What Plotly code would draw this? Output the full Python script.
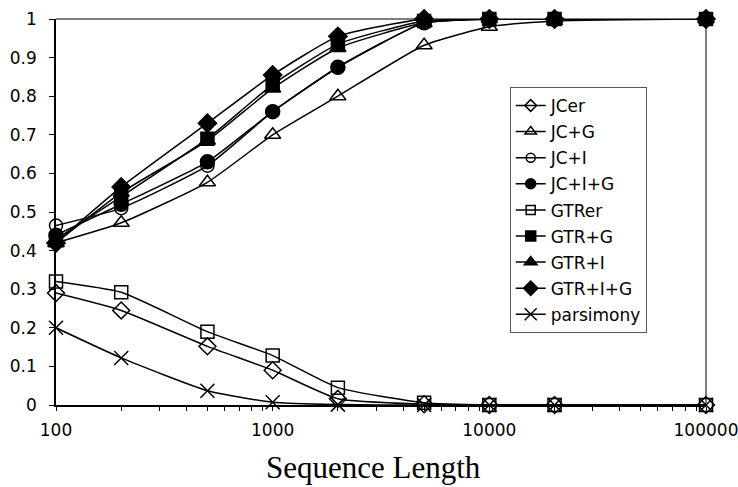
import plotly.graph_objects as go

seq_len = [100, 200, 500, 1000, 2000, 5000, 10000, 20000, 100000]
x_tick_vals = [100, 1000, 10000, 100000]
x_tick_text = ["100", "1000", "10000", "100000"]

jcer = [0.29, 0.245, 0.152, 0.09, 0.016, 0.002, 0.0, 0.0, 0.0]
jc_g = [0.42, 0.472, 0.577, 0.70, 0.80, 0.932, 0.98, 0.995, 1.0]
jc_i = [0.465, 0.51, 0.62, 0.76, 0.875, 0.99, 1.0, 1.0, 1.0]
jc_ig = [0.44, 0.52, 0.63, 0.76, 0.875, 0.99, 1.0, 1.0, 1.0]
gtrer = [0.32, 0.292, 0.19, 0.128, 0.045, 0.006, 0.0, 0.0, 0.0]
gtr_g = [0.43, 0.54, 0.69, 0.83, 0.935, 0.995, 1.0, 1.0, 1.0]
gtr_i = [0.42, 0.55, 0.685, 0.82, 0.925, 0.99, 1.0, 1.0, 1.0]
gtr_ig = [0.42, 0.565, 0.73, 0.855, 0.955, 1.0, 1.0, 1.0, 1.0]
parsimony = [0.2, 0.122, 0.037, 0.007, 0.001, 0.0, 0.0, 0.0, 0.0]

series = [
    ("JCer", jcer, "diamond-open", 13, 9),
    ("JC+G", jc_g, "triangle-up-open", 14, 10),
    ("JC+I", jc_i, "circle-open", 13, 9),
    ("JC+I+G", jc_ig, "circle", 14, 10),
    ("GTRer", gtrer, "square-open", 13, 9),
    ("GTR+G", gtr_g, "square", 13, 10),
    ("GTR+I", gtr_i, "triangle-up", 14, 11),
    ("GTR+I+G", gtr_ig, "diamond", 14, 11),
    ("parsimony", parsimony, "x-thin-open", 14, 12),
]

# minor tick positions on the log axis (2..9 within each decade)
minor_vals = [m * d for d in (100, 1000, 10000) for m in range(2, 10)]

fig = go.Figure()
for i, (name, ys, sym, sz, lsz) in enumerate(series):
    fig.add_trace(go.Scatter(
        x=seq_len, y=ys, name=name, mode="lines+markers",
        showlegend=False,
        line=dict(color="black", width=1.5, shape="spline", smoothing=0.5),
        marker=dict(symbol=sym, size=sz, color="black",
                    line=dict(color="black", width=1.5)),
        cliponaxis=False,
    ))
for i, (name, ys, sym, sz, lsz) in enumerate(series):
    fig.add_trace(go.Scatter(
        x=[None], y=[None], name=name, mode="lines+markers",
        legendgroup=f"g{i}",
        line=dict(color="black", width=1.5),
        marker=dict(symbol=sym, size=lsz, color="black",
                    line=dict(color="black", width=1.5)),
    ))

fig.update_layout(
    width=738, height=487,
    margin=dict(l=56, r=32, t=19, b=82, autoexpand=False),
    paper_bgcolor="white", plot_bgcolor="white",
    font=dict(family="DejaVu Sans", size=17, color="black"),
    showlegend=True,
    legend=dict(
        x=0.698, y=0.824, xanchor="left", yanchor="top",
        bordercolor="#555", borderwidth=1, bgcolor="white",
        font=dict(family="DejaVu Sans", size=17, color="black"),
        tracegroupgap=1,
        itemwidth=30,
    ),
    xaxis=dict(
        type="log", range=[2, 5], automargin=False,
        tickmode="array", tickvals=x_tick_vals, ticktext=x_tick_text,
        showline=True, linecolor="black", linewidth=1.5,
        ticks="outside", ticklen=4, tickcolor="black", tickwidth=1,
        ticklabelstandoff=5, ticklabeloverflow="allow",
        showgrid=False, zeroline=False,
        tickfont=dict(family="DejaVu Sans", size=17),
        minor=dict(ticks="outside", ticklen=4, tickcolor="black",
                   tickmode="array", tickvals=minor_vals, showgrid=False),
    ),
    yaxis=dict(
        range=[0, 1], dtick=0.1, automargin=False,
        showline=True, linecolor="black", linewidth=1.5,
        ticks="outside", ticklen=5, tickcolor="black",
        ticklabelstandoff=9,
        showgrid=False, zeroline=False,
        tickfont=dict(family="DejaVu Sans", size=17),
    ),
    shapes=[
        dict(type="line", xref="paper", yref="paper", x0=0, x1=1, y0=1, y1=1,
             line=dict(color="#555", width=1.5), layer="below"),
        dict(type="line", xref="paper", yref="paper", x0=1, x1=1, y0=0, y1=1,
             line=dict(color="#555", width=1.5), layer="below"),
    ],
    annotations=[
        dict(text="Sequence Length", xref="paper", yref="paper",
             x=0.4877, y=-0.163, xanchor="center", yanchor="middle",
             showarrow=False,
             font=dict(family="Liberation Serif", size=31, color="black")),
    ],
)

fig.write_html("out.html")
